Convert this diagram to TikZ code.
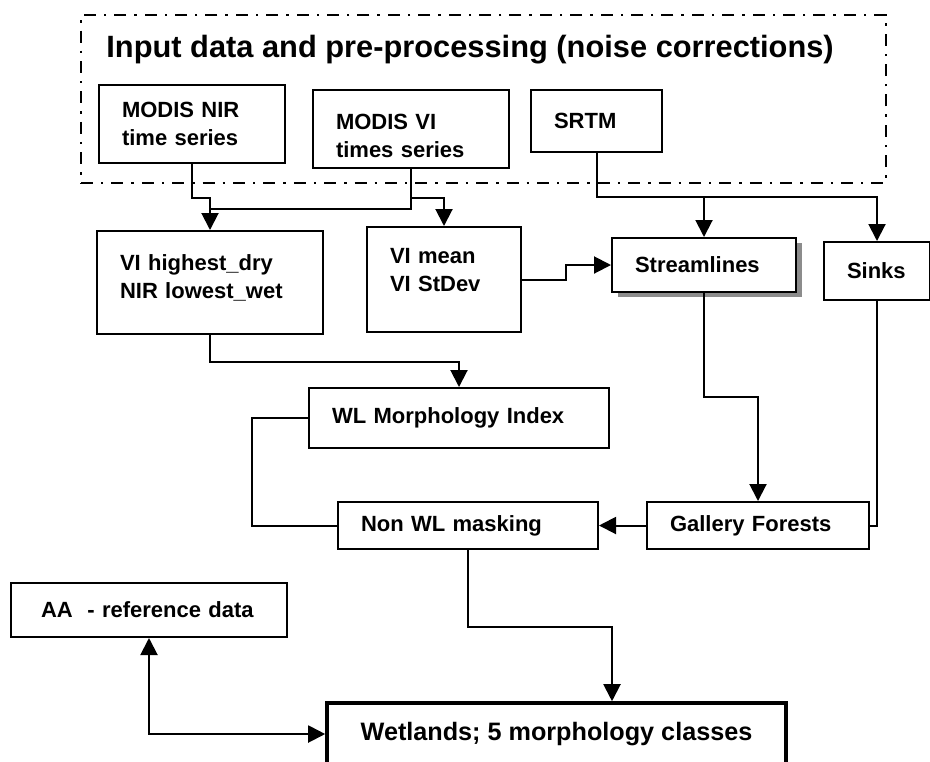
\documentclass[tikz,border=0pt]{standalone}
\usepackage{fontspec}
\setmainfont{Liberation Sans}
\usepackage{tikz}
\usetikzlibrary{arrows.meta,shadows}
\newcommand{\lblfont}{\bfseries\fontsize{11}{14}\selectfont}
\tikzstyle{box} = [draw, line width=1pt, inner xsep=11.5pt, align=left, font=\lblfont]
\tikzstyle{frame} = [draw, line width=1pt, dash pattern=on 6pt off 4pt on 1.2pt off 4pt]
\tikzstyle{link} = [line width=1pt]
\tikzstyle{arr} = [link, -{Triangle[width=8.5pt,length=8.5pt]}]
\tikzstyle{arrr} = [link, {Triangle[width=8.5pt,length=8.5pt]}-{Triangle[width=8.5pt,length=8.5pt]}]
\begin{document}
\begin{tikzpicture}[x=0.5pt,y=-0.5pt]
	\useasboundingbox (0,0) rectangle (930,761);
	\clip (0,0) rectangle (930,761);
	\node[frame, minimum width=402.5pt, minimum height=84pt] (pre) at (483.5,99) {};
	\node[anchor=base west, inner sep=0pt, font=\bfseries\fontsize{15.4}{18}\selectfont] (title) at (106,57) {Input data and pre-processing (noise corrections)};
	\node[box, text width=70pt, minimum height=39pt] (nir) at (192,124) {MODIS NIR\\time series};
	\node[box, text width=75pt, minimum height=39pt, text height=8pt, text depth=8pt] (vits) at (411,129) {MODIS VI\\times series};
	\node[box, text width=42.5pt, minimum height=31pt] (srtm) at (596.5,121) {SRTM};
	\node[box, text width=90pt, minimum height=51.5pt, text height=8pt, text depth=20pt] (hd) at (210,282.5) {VI highest\_dry\\NIR lowest\_wet};
	\node[box, text width=54pt, minimum height=52.5pt, text height=8pt, text depth=24pt] (mean) at (444,279.5) {VI mean\\VI StDev};
	\node[box, text width=69pt, minimum height=27pt, fill=white, drop shadow={shadow xshift=3pt, shadow yshift=-2.5pt, fill=black!45, opacity=1}] (stream) at (704,265) {Streamlines};
	\node[box, text width=30pt, minimum height=29pt] (sinks) at (877,271) {Sinks};
	\node[box, text width=127pt, minimum height=30pt] (wlmi) at (459,418) {WL Morphology Index};
	\node[box, text width=107pt, minimum height=23.5pt] (nonwl) at (468,525.5) {Non WL masking};
	\node[box, text width=88pt, minimum height=23.5pt] (gallery) at (758,525.5) {Gallery Forests};
	\node[box, inner xsep=15pt, text width=108pt, minimum height=27pt] (aa) at (149,610) {AA~ - reference data};
	\node[box, line width=1.8pt, align=center, minimum width=229.5pt, minimum height=31pt, font=\bfseries\fontsize{12.6}{15}\selectfont] (wet) at (556.5,734) {Wetlands; 5 morphology classes};
	\coordinate (j1) at (210,209);
	\coordinate (wetin) at ([xshift=27.75pt]wet.north);
	\draw[arr] (nir.south) -- ++(0,34) -| (hd.north);
	\draw[link] (vits.south) |- (j1);
	\draw[arr] (vits.south) ++(0,29) -| (mean.north);
	\draw[arr] (hd.south) -- ++(0,27) -| (wlmi.north);
	\draw[arr] (mean.east) -- ++(44,0) |- (stream.west);
	\draw[arr] (srtm.south) -- ++(0,44) -| (sinks.north);
	\draw[arr] (srtm.south) ++(0,44) -| (stream.north);
	\draw[arr] (stream.south) -- ++(0,104) -| (gallery.north);
	\draw[link] (sinks.south) |- (gallery.east);
	\draw[arr] (gallery) -- (nonwl);
	\draw[link] (wlmi.west) -- ++(-56,0) |- (nonwl.west);
	\draw[arr] (nonwl.south) -- ++(0,77) -| (wetin);
	\draw[arrr] (aa.south) |- (wet.west);
\end{tikzpicture}
\end{document}
